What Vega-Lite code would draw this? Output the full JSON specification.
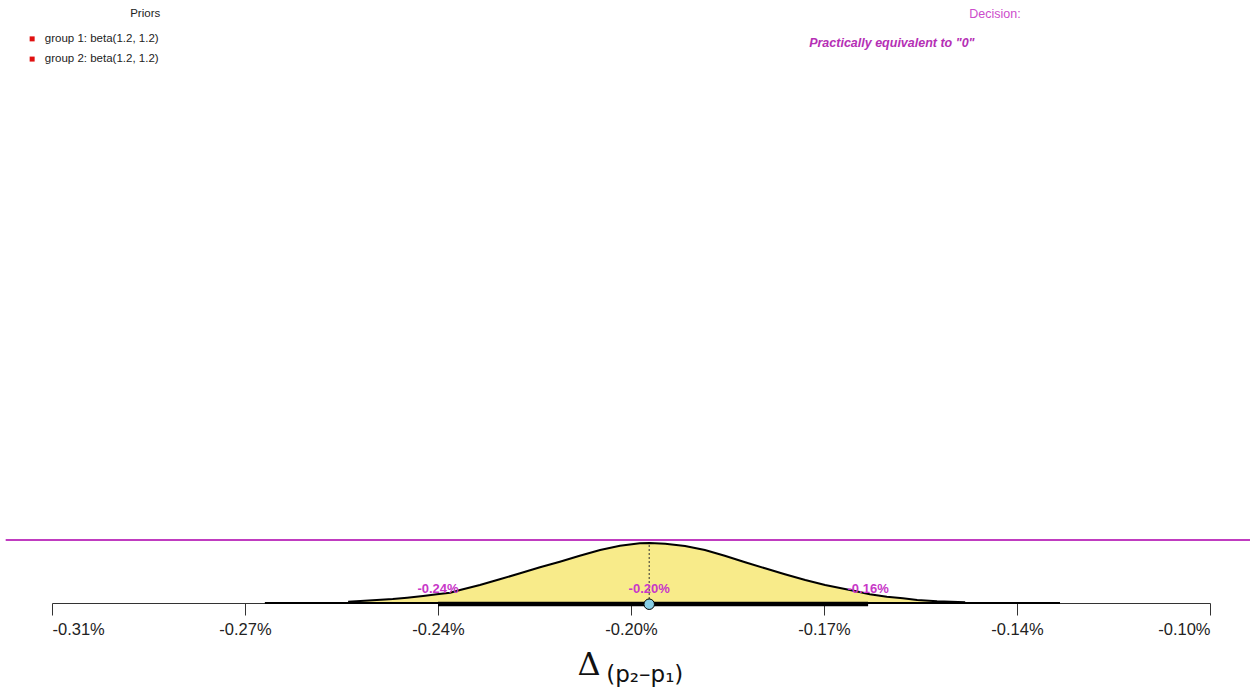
{
  "$schema": "https://vega.github.io/schema/vega-lite/v6.json",
  "autosize": {"type": "none"},
  "width": 1158,
  "height": 603,
  "padding": {"left": 52, "top": 0, "right": 40, "bottom": 91},
  "background": "white",
  "config": {"view": {"stroke": null}, "font": "Liberation Sans"},
  "datasets": {
    "curve": [
      {"delta": -0.2563, "density": 0.42},
      {"delta": -0.2511, "density": 0.98},
      {"delta": -0.2482, "density": 1.31},
      {"delta": -0.2456, "density": 1.73},
      {"delta": -0.2427, "density": 2.29},
      {"delta": -0.2402, "density": 2.84},
      {"delta": -0.2378, "density": 3.37},
      {"delta": -0.2360, "density": 4.25},
      {"delta": -0.2324, "density": 5.88},
      {"delta": -0.2288, "density": 7.74},
      {"delta": -0.2251, "density": 9.70},
      {"delta": -0.2215, "density": 11.66},
      {"delta": -0.2179, "density": 13.49},
      {"delta": -0.2143, "density": 15.45},
      {"delta": -0.2106, "density": 17.32},
      {"delta": -0.2070, "density": 18.72},
      {"delta": -0.2034, "density": 19.50},
      {"delta": -0.2016, "density": 19.60},
      {"delta": -0.1988, "density": 19.37},
      {"delta": -0.1952, "density": 18.62},
      {"delta": -0.1916, "density": 17.32},
      {"delta": -0.1880, "density": 15.45},
      {"delta": -0.1843, "density": 13.30},
      {"delta": -0.1807, "density": 11.34},
      {"delta": -0.1771, "density": 9.38},
      {"delta": -0.1734, "density": 7.51},
      {"delta": -0.1698, "density": 5.88},
      {"delta": -0.1662, "density": 4.57},
      {"delta": -0.1644, "density": 3.92},
      {"delta": -0.1617, "density": 2.84},
      {"delta": -0.1586, "density": 2.06},
      {"delta": -0.1557, "density": 1.54},
      {"delta": -0.1531, "density": 0.98},
      {"delta": -0.1495, "density": 0.56},
      {"delta": -0.1444, "density": 0.23}
    ],
    "labels": [
      {"delta": -0.24, "density": 4.6, "label": "-0.24%"},
      {"delta": -0.2017, "density": 4.6, "label": "-0.20%"},
      {"delta": -0.162, "density": 4.6, "label": "-0.16%"}
    ],
    "priors": [
      {"delta": -0.3113, "density": 184.3, "label": "group 1: beta(1.2, 1.2)", "mx": -0.3136},
      {"delta": -0.3113, "density": 177.7, "label": "group 2: beta(1.2, 1.2)", "mx": -0.3136}
    ]
  },
  "layer": [
    {
      "data": {"name": "curve"},
      "mark": {"type": "area", "color": "#f8eb8a"},
      "encoding": {
        "x": {"field": "delta", "type": "quantitative", "scale": {"domain": [-0.31, -0.10], "nice": false, "zero": false},
          "axis": {
            "title": null,
            "values": [-0.31, -0.275, -0.24, -0.205, -0.17, -0.135, -0.10],
            "labelExpr": "datum.value < -0.3 ? '-0.31%' : datum.value < -0.26 ? '-0.27%' : datum.value < -0.22 ? '-0.24%' : datum.value < -0.19 ? '-0.20%' : datum.value < -0.15 ? '-0.17%' : datum.value < -0.12 ? '-0.14%' : '-0.10%'",
            "grid": false,
            "tickSize": 12,
            "tickColor": "#333333",
            "domainColor": "#333333",
            "labelFontSize": 16.5,
            "labelColor": "#222222",
            "labelPadding": 6,
            "labelFont": "Liberation Sans"
          }},
        "y": {"field": "density", "type": "quantitative", "scale": {"domain": [0, 197], "nice": false, "zero": false}, "axis": null}
      }
    },
    {
      "data": {"values": [{"a": -0.2714, "b": -0.1272, "y": 0}]},
      "mark": {"type": "rule", "color": "black", "strokeWidth": 2},
      "encoding": {
        "x": {"field": "a", "type": "quantitative"},
        "x2": {"field": "b"},
        "y": {"field": "y", "type": "quantitative"}
      }
    },
    {
      "data": {"name": "curve"},
      "mark": {"type": "line", "color": "black", "strokeWidth": 2},
      "encoding": {
        "x": {"field": "delta", "type": "quantitative"},
        "y": {"field": "density", "type": "quantitative"}
      }
    },
    {
      "data": {"values": [{"a": -0.2017, "y": 0, "y2": 19.6}]},
      "mark": {"type": "rule", "color": "#333333", "strokeWidth": 1, "strokeDash": [2, 2]},
      "encoding": {
        "x": {"field": "a", "type": "quantitative"},
        "y": {"field": "y", "type": "quantitative"},
        "y2": {"field": "y2"}
      }
    },
    {
      "data": {"values": [{"a": -0.24, "b": -0.162, "y": -0.3}]},
      "mark": {"type": "rule", "color": "black", "strokeWidth": 4.5},
      "encoding": {
        "x": {"field": "a", "type": "quantitative"},
        "x2": {"field": "b"},
        "y": {"field": "y", "type": "quantitative"}
      }
    },
    {
      "data": {"values": [{"a": -0.3184, "b": -0.0927, "y": 20.6}]},
      "mark": {"type": "rule", "color": "#c03cc0", "strokeWidth": 2},
      "encoding": {
        "x": {"field": "a", "type": "quantitative"},
        "x2": {"field": "b"},
        "y": {"field": "y", "type": "quantitative"}
      }
    },
    {
      "data": {"name": "labels"},
      "mark": {"type": "text", "color": "#c837c8", "fontSize": 13, "fontWeight": "bold", "font": "Liberation Sans"},
      "encoding": {
        "x": {"field": "delta", "type": "quantitative"},
        "y": {"field": "density", "type": "quantitative"},
        "text": {"field": "label"}
      }
    },
    {
      "data": {"values": [{"a": -0.2017, "y": -0.4}]},
      "mark": {"type": "point", "shape": "circle", "filled": true, "fill": "#88cfe6", "stroke": "black", "strokeWidth": 1, "size": 110, "opacity": 1},
      "encoding": {
        "x": {"field": "a", "type": "quantitative"},
        "y": {"field": "y", "type": "quantitative"}
      }
    },
    {
      "data": {"values": [{"delta": -0.2931, "density": 192.4, "label": "Priors"}]},
      "mark": {"type": "text", "color": "#222222", "fontSize": 11.5, "font": "Liberation Sans"},
      "encoding": {
        "x": {"field": "delta", "type": "quantitative"},
        "y": {"field": "density", "type": "quantitative"},
        "text": {"field": "label"}
      }
    },
    {
      "data": {"name": "priors"},
      "mark": {"type": "square", "color": "#e01010", "filled": true, "size": 25, "opacity": 1},
      "encoding": {
        "x": {"field": "mx", "type": "quantitative"},
        "y": {"field": "density", "type": "quantitative"}
      }
    },
    {
      "data": {"name": "priors"},
      "mark": {"type": "text", "color": "#222222", "fontSize": 11.5, "align": "left", "font": "Liberation Sans"},
      "encoding": {
        "x": {"field": "delta", "type": "quantitative"},
        "y": {"field": "density", "type": "quantitative"},
        "text": {"field": "label"}
      }
    },
    {
      "data": {"values": [{"delta": -0.1390, "density": 192.4, "label": "Decision:"}]},
      "mark": {"type": "text", "color": "#cc4ccc", "fontSize": 12.5, "font": "Liberation Sans"},
      "encoding": {
        "x": {"field": "delta", "type": "quantitative"},
        "y": {"field": "density", "type": "quantitative"},
        "text": {"field": "label"}
      }
    },
    {
      "data": {"values": [{"delta": -0.1577, "density": 182.9, "label": "Practically equivalent to \"0\""}]},
      "mark": {"type": "text", "color": "#b52fb5", "fontSize": 12.5, "fontWeight": "bold", "fontStyle": "italic", "font": "Liberation Sans"},
      "encoding": {
        "x": {"field": "delta", "type": "quantitative"},
        "y": {"field": "density", "type": "quantitative"},
        "text": {"field": "label"}
      }
    },
    {
      "data": {"values": [{"delta": -0.2126, "density": -20.3, "label": "Δ"}]},
      "mark": {"type": "text", "color": "#111111", "fontSize": 32, "font": "DejaVu Serif"},
      "encoding": {
        "x": {"field": "delta", "type": "quantitative"},
        "y": {"field": "density", "type": "quantitative"},
        "text": {"field": "label"}
      }
    },
    {
      "data": {"values": [{"delta": -0.2025, "density": -23.5, "label": "(p₂–p₁)"}]},
      "mark": {"type": "text", "color": "#111111", "fontSize": 23, "font": "DejaVu Sans"},
      "encoding": {
        "x": {"field": "delta", "type": "quantitative"},
        "y": {"field": "density", "type": "quantitative"},
        "text": {"field": "label"}
      }
    }
  ]
}
